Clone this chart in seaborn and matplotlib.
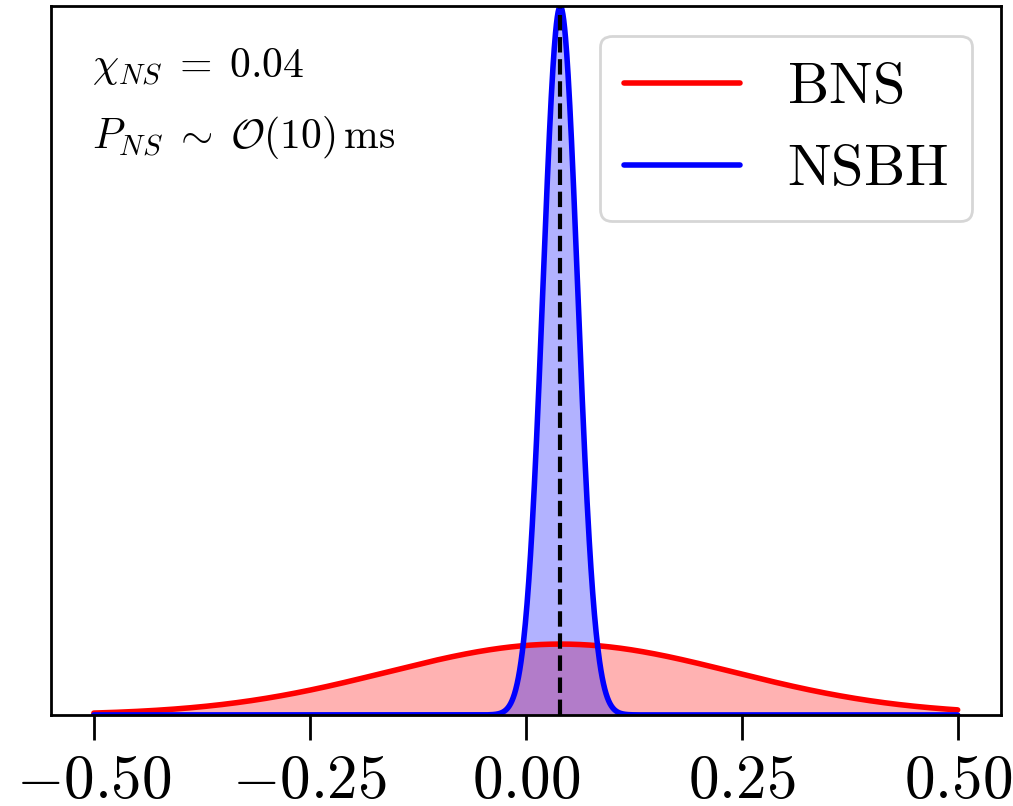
import numpy as np
import pandas as pd
import matplotlib
matplotlib.use("Agg")
import matplotlib.pyplot as plt
from matplotlib.ticker import FuncFormatter
import seaborn as sns

# Posterior widths for the neutron-star spin, per source class
sources = ["BNS", "NSBH"]
means = [0.04, 0.04]
sigmas = [0.20, 0.02]
colors = ["red", "blue"]
chi_true = 0.04
x_ticks = [-0.50, -0.25, 0.00, 0.25, 0.50]

sns.set_theme(style="ticks")
plt.rcParams["mathtext.fontset"] = "cm"
plt.rcParams["font.family"] = ["DejaVu Serif"]
plt.rcParams["text.color"] = "black"
plt.rcParams["xtick.color"] = "black"
plt.rcParams["xtick.labelcolor"] = "black"

grid = np.linspace(-0.5, 0.5, 2001)
frames = []
for name, mu, sd in zip(sources, means, sigmas):
    pdf = np.exp(-0.5 * ((grid - mu) / sd) ** 2) / (sd * np.sqrt(2 * np.pi))
    frames.append(pd.DataFrame({"chi": grid, "density": pdf, "source": name}))
df = pd.concat(frames, ignore_index=True)

fig = plt.figure(figsize=(5.065, 4.03), dpi=200)
ax = fig.add_axes([0.050, 0.113, 0.938, 0.879])

sns.lineplot(data=df, x="chi", y="density", hue="source", hue_order=sources,
             palette=dict(zip(sources, colors)), linewidth=2.0, ax=ax)
for name, col in zip(sources, colors):
    sub = df[df["source"] == name]
    ax.fill_between(sub["chi"], 0, sub["density"], color=col, alpha=0.3, linewidth=0)

ax.axvline(chi_true, color="black", linestyle="--", linewidth=1.5)

ax.set_xlim(-0.55, 0.55)
ax.set_ylim(0, df["density"].max())
ax.set_xticks(x_ticks)
ax.xaxis.set_major_formatter(FuncFormatter(lambda v, p: f"${v:.2f}$"))
ax.set_yticks([])
ax.set_xlabel("")
ax.set_ylabel("")
ax.tick_params(axis="x", length=9, width=1.0, labelsize=22, pad=4,
               color="black", labelcolor="black")
for s in ax.spines.values():
    s.set_visible(True)
    s.set_linewidth(1.0)
    s.set_color("black")

handles, labels = ax.get_legend_handles_labels()
leg = ax.legend(handles, [rf"$\mathrm{{{l}}}$" for l in labels], loc="upper right",
                fontsize=21, frameon=True, fancybox=True, edgecolor="0.8",
                framealpha=0.8, labelspacing=0.45)
for t in leg.get_texts():
    t.set_color("black")

ax.text(0.044, 0.9, r"$\chi_{NS}\;=\;0.04$", transform=ax.transAxes,
        fontsize=15, color="black")
ax.text(0.044, 0.8, r"$P_{NS}\;\sim\;\mathcal{O}(10)\,\mathrm{ms}$",
        transform=ax.transAxes, fontsize=15, color="black")

fig.savefig("out.png", dpi=200)
